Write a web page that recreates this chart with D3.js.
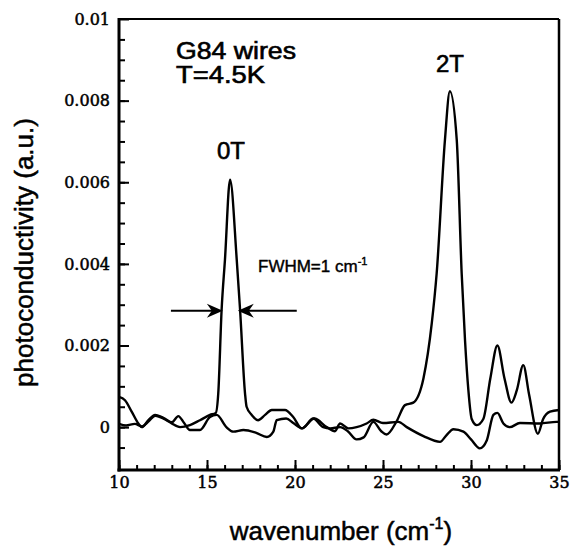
<!DOCTYPE html>
<html>
<head>
<meta charset="utf-8">
<script src="https://cdn.jsdelivr.net/npm/d3@7"></script>
<style>
	html, body { margin: 0; padding: 0; background: #fff; }
	svg { display: block; }
</style>
</head>
<body>
<svg id="chart" width="571" height="548"></svg>
<script>
// 0T spectrum
const wn0T = [10, 10.4, 10.9, 11.3, 11.7, 12.05, 12.7, 13.0, 13.47, 14.03, 14.6, 15.17, 15.5, 15.64, 15.83, 16.02, 16.31, 16.69, 16.88, 17.16, 17.25, 17.54, 17.9, 18.3, 18.68, 19.43, 19.9, 20.38, 21.1, 21.8, 22.27, 22.56, 23.03, 23.5, 24.07, 24.45, 25.0, 25.87, 26.35, 27.3, 28.24, 28.6, 29.0, 29.57, 30.0, 30.5, 30.9, 31.27, 31.5, 31.84, 32.2, 32.78, 33.9, 34.86, 35]
const pc0T = [0.00008, 0.00004, 0.00008, 0.00002, 0.00015, 0.00028, 0.00017, 0.00009, 0.0, 0.00005, 0.00017, 0.0003, 0.00035, 0.00083, 0.00287, 0.0041, 0.00606, 0.0041, 0.00287, 0.00083, 0.0005, 0.0003, 0.00017, 0.0003, 0.00042, 0.00042, 0.00025, -0.00003, 0.00021, 0.0, -0.0001, 0.00009, -0.00003, 0.0, 0.00009, 0.00018, 0.0001, 0.00013, 0.0, -0.00022, -0.00036, -0.0002, -0.00005, -0.00011, -0.0003, -0.00052, -0.00032, 0.0003, 0.00035, 0.00009, 0, 0.0001, 0.00009, 0.00013, 0.00013]
// 2T spectrum
const wn2T = [10, 10.34, 10.72, 11.1, 11.3, 11.67, 12.05, 12.6, 13.0, 13.37, 13.7, 14.03, 14.6, 15.17, 15.55, 16.1, 16.5, 17.07, 17.8, 18.4, 18.77, 18.96, 19.5, 19.9, 20.4, 21.04, 21.6, 22.0, 22.56, 23.0, 23.5, 23.9, 24.45, 24.9, 25.2, 25.78, 26.25, 26.72, 27.3, 27.77, 28.05, 28.52, 28.8, 29.19, 29.47, 29.66, 29.85, 30.04, 30.33, 30.7, 31.1, 31.5, 31.9, 32.3, 32.6, 32.97, 33.3, 33.8, 34.1, 34.49, 35]
const pc2T = [0.00074, 0.00066, 0.00038, 0.00009, 0.0, 0.00017, 0.0003, 0.00021, 0.00012, 0.00027, 0.0001, -0.00007, -0.00007, 0.00025, 0.0003, 0.0, -0.00011, -0.00007, -0.00014, -0.00024, -0.00011, 0.00017, 0.00021, 0.0001, -0.00003, 0.00021, 0.0, -0.00003, 0.0, -0.0001, -0.0003, -0.00025, 0.00013, -0.0001, -0.00018, 0.00015, 0.00054, 0.0006, 0.0012, 0.00254, 0.00377, 0.00704, 0.00823, 0.00704, 0.00377, 0.00213, 0.00091, 0.0002, 0.00005, 0.0002, 0.0012, 0.002, 0.0012, 0.0006, 0.0009, 0.00152, 0.0008, -0.00016, 0.0002, 0.00038, 0.00042]

const xTickValues = [10, 15, 20, 25, 30, 35]
const xMinorValues = d3.range(10, 35.01, 1)
const yTickValues = [0, 0.002, 0.004, 0.006, 0.008, 0.01]
const yMinorValues = d3.range(-0.0005, 0.00951, 0.0005)

// FWHM arrows (wavenumber at tail / tip, level)
const fwhmLeft = [12.95, 15.9]
const fwhmRight = [20.1, 16.75]
const fwhmLevel = 0.00285

const margin = {left: 119, right: 12, top: 19, bottom: 78}
const width = 571
const height = 548

const svg = d3.select("#chart")

const x = d3.scaleLinear()
	.domain([10, 35])
	.range([margin.left, width - margin.right])
const y = d3.scaleLinear()
	.domain([-0.00105, 0.01])
	.range([height - margin.bottom, margin.top])

const tickFont = "'DejaVu Serif', serif"
const sansFont = "'Liberation Sans', Arial, sans-serif"

// minor ticks
svg.append("g")
	.attr("transform", `translate(${margin.left},0)`)
	.call(d3.axisLeft(y).tickValues(yMinorValues).tickSize(-6).tickFormat(""))
	.call(g => g.select(".domain").remove())
svg.append("g")
	.attr("transform", `translate(0,${height - margin.bottom})`)
	.call(d3.axisBottom(x).tickValues(xMinorValues).tickSize(-5).tickFormat(""))
	.call(g => g.select(".domain").remove())

// major ticks
svg.append("g")
	.attr("transform", `translate(${margin.left},0)`)
	.call(d3.axisLeft(y)
		.tickValues(yTickValues)
		.tickSize(-10)
		.tickPadding(9)
		.tickFormat(d => d === 0 ? "0" : String(+d.toFixed(3))))
	.call(g => g.select(".domain").remove())
svg.append("g")
	.attr("transform", `translate(0,${height - margin.bottom})`)
	.call(d3.axisBottom(x).tickValues(xTickValues).tickSize(-10).tickPadding(7))
	.call(g => g.select(".domain").remove())

svg.selectAll(".tick line")
	.attr("stroke", "#000")
	.attr("stroke-width", 2)
svg.selectAll(".tick text")
	.attr("fill", "#000")
	.attr("stroke", "#000")
	.attr("stroke-width", 0.5)
	.style("font-family", tickFont)
	.style("font-size", "16px")

// frame
const x0 = x.range()[0], x1 = x.range()[1]
const y0 = y.range()[0], y1 = y.range()[1]
const frame = svg.append("g").attr("stroke", "#000").attr("fill", "none")
frame.append("line").attr("x1", x0).attr("x2", x1).attr("y1", y1).attr("y2", y1).attr("stroke-width", 2)
frame.append("line").attr("x1", x1).attr("x2", x1).attr("y1", y1).attr("y2", y0).attr("stroke-width", 2.5)
frame.append("line").attr("x1", x0).attr("x2", x0).attr("y1", y1 - 1).attr("y2", y0 + 1.5).attr("stroke-width", 3)
frame.append("line").attr("x1", x0 - 1.5).attr("x2", x1 + 1).attr("y1", y0).attr("y2", y0).attr("stroke-width", 3)

// spectra
const line = d3.line()
	.x(d => x(d[0]))
	.y(d => y(d[1]))
	.curve(d3.curveMonotoneX)

const spectra = [
	d3.zip(wn0T, pc0T),
	d3.zip(wn2T, pc2T)
]
svg.append("g")
	.selectAll("path")
	.data(spectra)
	.enter()
	.append("path")
	.attr("d", line)
	.attr("fill", "none")
	.attr("stroke", "#000")
	.attr("stroke-width", 2.4)
	.attr("stroke-linejoin", "round")

// FWHM arrows
const arrow = (from, to) => {
	const ya = y(fwhmLevel)
	const xa = x(from), xb = x(to)
	const dir = Math.sign(xb - xa)
	svg.append("line")
		.attr("x1", xa).attr("x2", xb - dir * 8)
		.attr("y1", ya).attr("y2", ya)
		.attr("stroke", "#000")
		.attr("stroke-width", 2)
	svg.append("path")
		.attr("d", `M${xb},${ya} L${xb - dir * 16},${ya - 7} L${xb - dir * 11},${ya} L${xb - dir * 16},${ya + 7} Z`)
		.attr("fill", "#000")
}
arrow(fwhmLeft[0], fwhmLeft[1])
arrow(fwhmRight[0], fwhmRight[1])

// labels
const label = (text, px, py, size, anchor) => svg.append("text")
	.attr("x", px)
	.attr("y", py)
	.attr("text-anchor", anchor || "start")
	.attr("stroke", "#000")
	.attr("stroke-width", 0.6)
	.style("font-family", sansFont)
	.style("font-size", size + "px")
	.text(text)

label("G84 wires", 176, 59, 23).attr("textLength", 120).attr("lengthAdjust", "spacingAndGlyphs")
label("T=4.5K", 176, 83, 23).attr("textLength", 89).attr("lengthAdjust", "spacingAndGlyphs")
label("0T", 231, 159, 24, "middle")
label("2T", 450, 72, 24, "middle")

const fwhm = label("FWHM=1 cm", 258, 272, 17).attr("stroke-width", 0.4)
fwhm.append("tspan")
	.attr("dy", -7)
	.style("font-size", "11px")
	.text("-1")

svg.append("text")
	.attr("transform", `translate(33,${(y0 + y1) / 2 + 8}) rotate(-90)`)
	.attr("text-anchor", "middle")
	.attr("stroke", "#000")
	.attr("stroke-width", 0.5)
	.style("font-family", sansFont)
	.style("font-size", "26px")
	.text("photoconductivity (a.u.)")

const xTitle = svg.append("text")
	.attr("x", (x0 + x1) / 2 + 2)
	.attr("y", 540)
	.attr("text-anchor", "middle")
	.attr("stroke", "#000")
	.attr("stroke-width", 0.5)
	.style("font-family", sansFont)
	.style("font-size", "26px")
xTitle.append("tspan").text("wavenumber (cm")
xTitle.append("tspan").attr("dy", -11).style("font-size", "16px").text("-1")
xTitle.append("tspan").attr("dy", 11).text(")")
</script>
</body>
</html>
